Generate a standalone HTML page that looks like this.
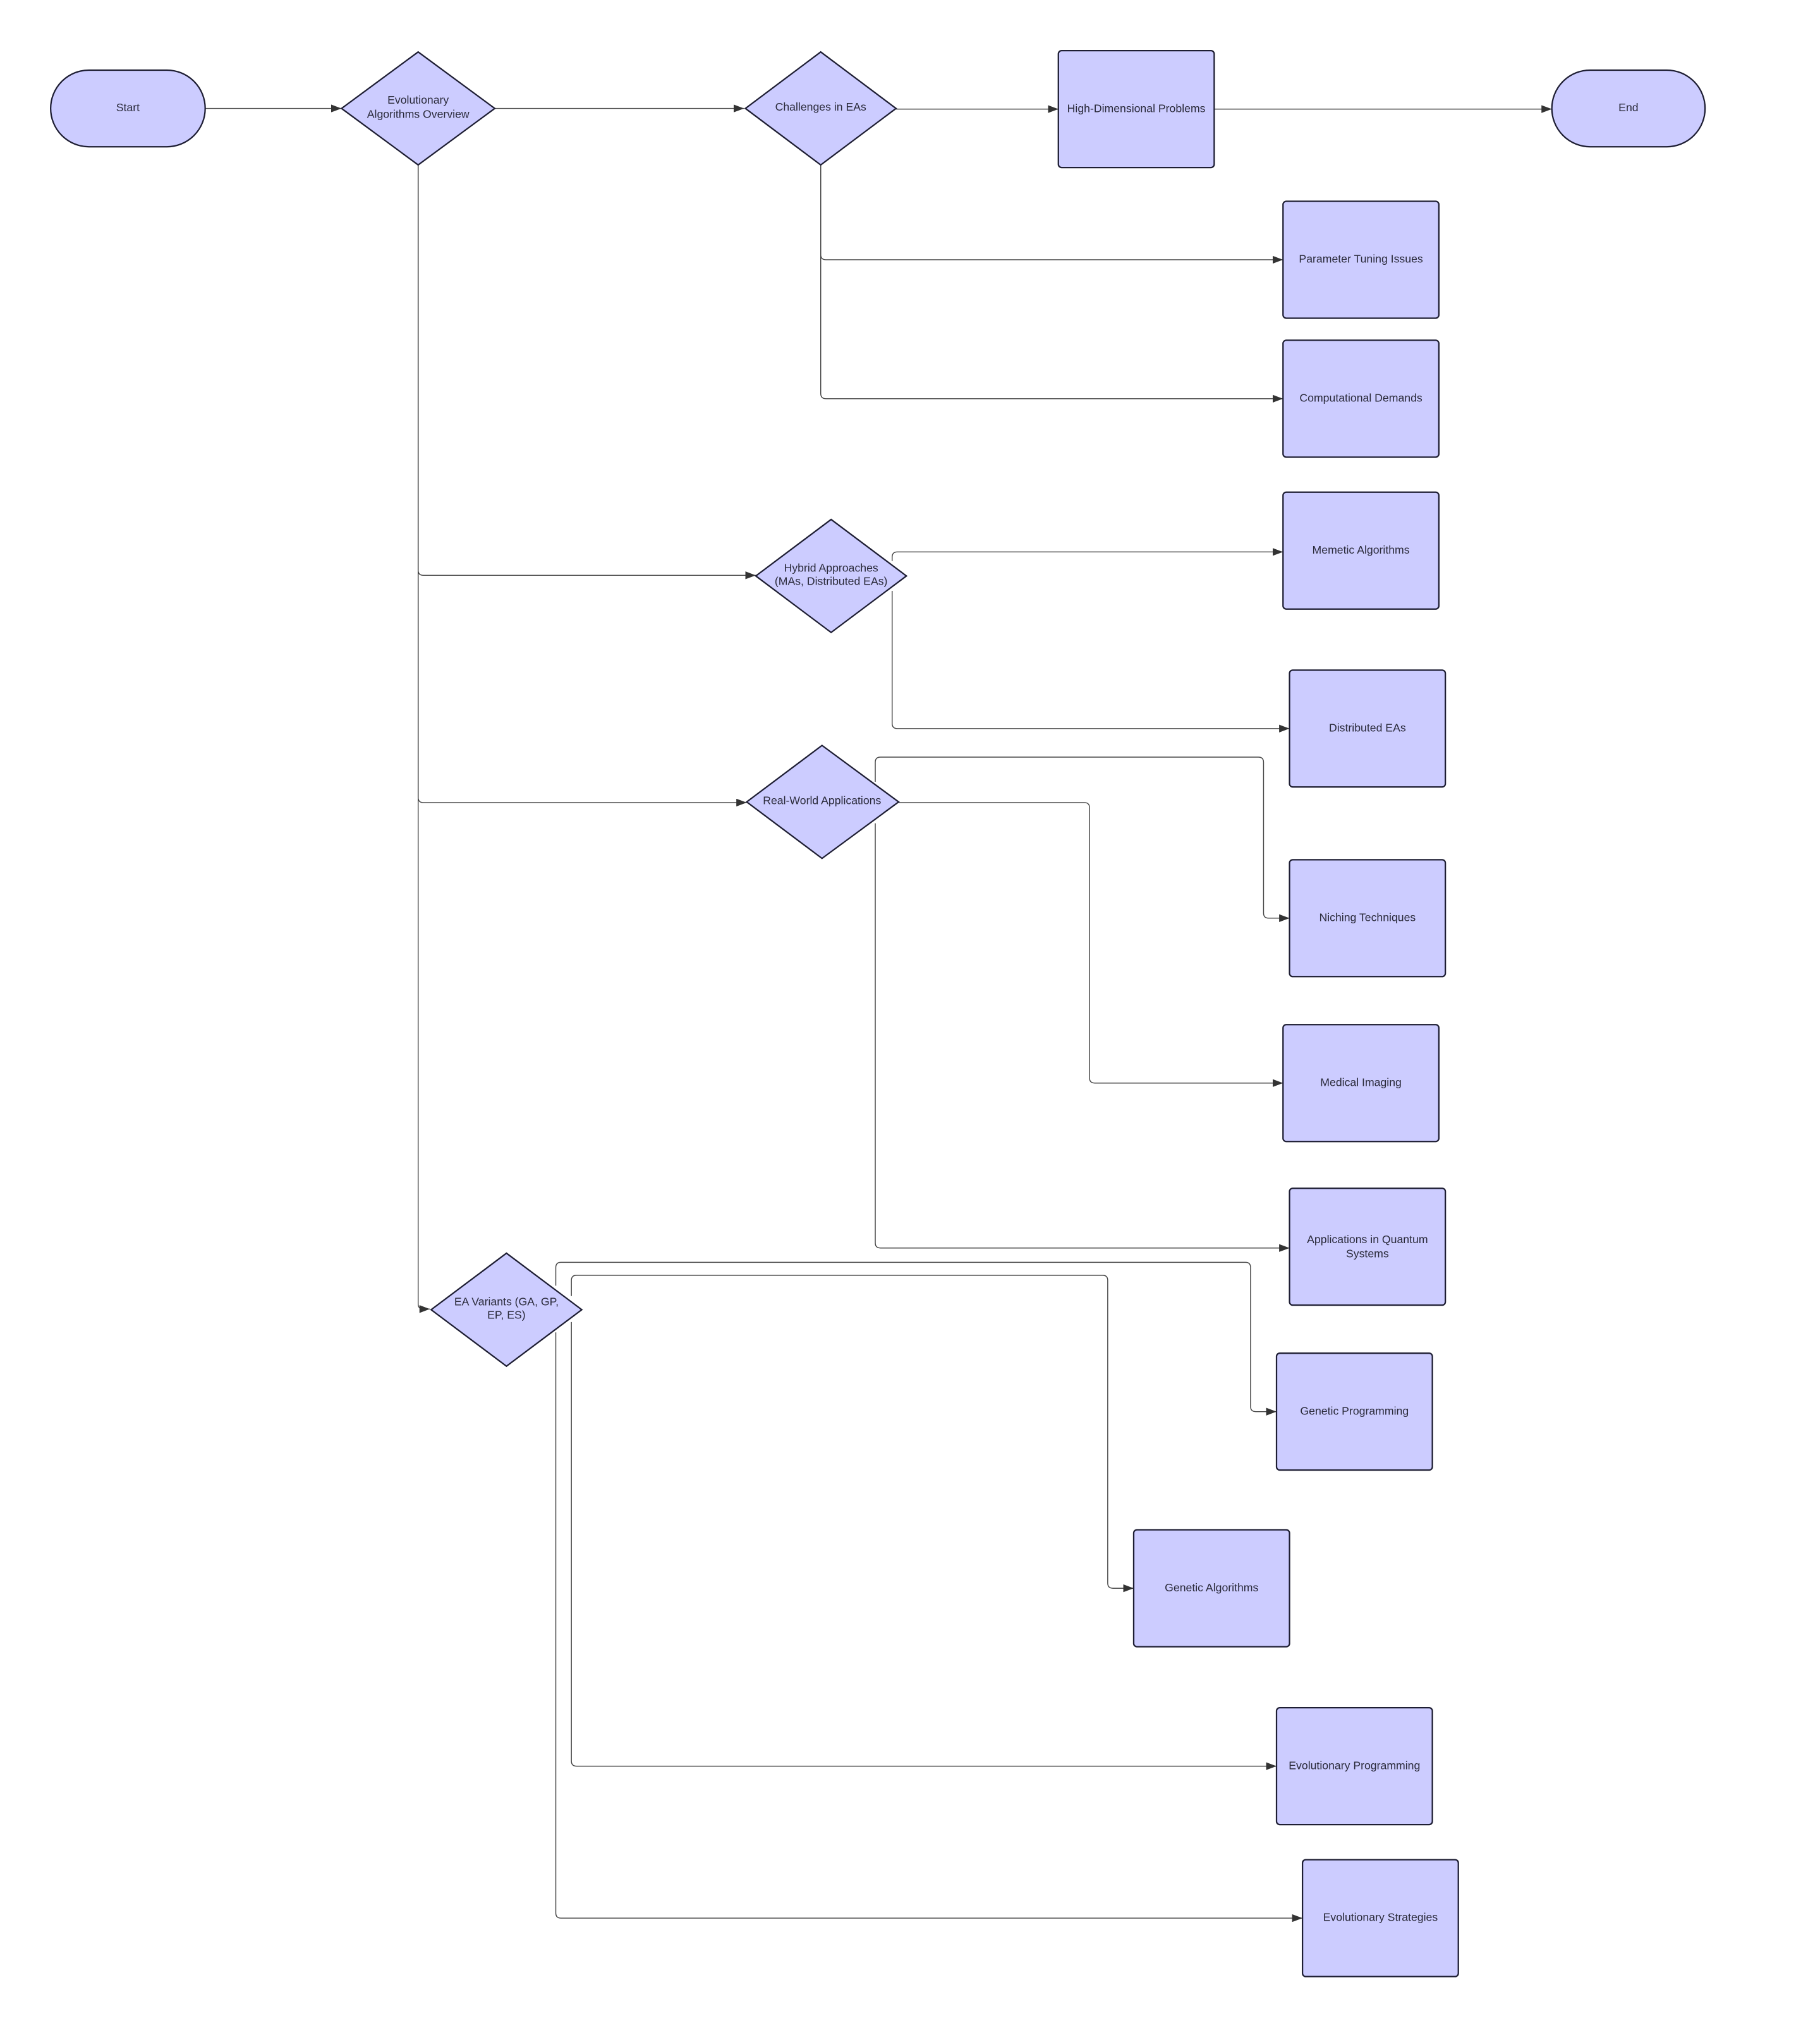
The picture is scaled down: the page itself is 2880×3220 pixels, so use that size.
<!DOCTYPE html>
<html><head><meta charset="utf-8"><style>
html,body{margin:0;padding:0;background:#fff;}
svg{display:block;}
text{font-family:"Liberation Sans",Arial,sans-serif;font-size:8.6px;fill:#2a2a3a;text-anchor:middle;dominant-baseline:middle;}
.s{fill:#ccccff;stroke:#1e1e33;stroke-width:1.1;}
.c{fill:none;stroke:#444;stroke-width:0.7;stroke-linejoin:round;}
</style></head><body>
<svg width="2880" height="3220" viewBox="0 0 1401.5 1567" preserveAspectRatio="none" xmlns="http://www.w3.org/2000/svg">
<defs><marker id="a" markerWidth="8" markerHeight="6" refX="8" refY="3" orient="auto" markerUnits="userSpaceOnUse"><path d="M0,0 L8,3 L0,6 Z" fill="#333"/></marker></defs>
<rect width="1410" height="1580" fill="#fff"/>
<g class="c">
<path d="M158,83.5 H263" marker-end="url(#a)"/>
<path d="M381,83.5 H573" marker-end="url(#a)"/>
<path d="M690,84 H815" marker-end="url(#a)"/>
<path d="M935,84 H1195" marker-end="url(#a)"/>
<path d="M632,127 V196 Q632,200 636,200 H988" marker-end="url(#a)"/>
<path d="M632,127 V303 Q632,307 636,307 H988" marker-end="url(#a)"/>
<path d="M322,127 V439 Q322,443 326,443 H582" marker-end="url(#a)"/>
<path d="M322,127 V614 Q322,618 326,618 H575" marker-end="url(#a)"/>
<path d="M322,127 V1004 Q322,1008 326,1008 H331" marker-end="url(#a)"/>
<path d="M687,432 V429 Q687,425 691,425 H988" marker-end="url(#a)"/>
<path d="M687,455 V557 Q687,561 691,561 H993" marker-end="url(#a)"/>
<path d="M692,618 H835 Q839,618 839,622 V830 Q839,834 843,834 H988" marker-end="url(#a)"/>
<path d="M674,602 V587 Q674,583 678,583 H969 Q973,583 973,587 V703 Q973,707 977,707 H993" marker-end="url(#a)"/>
<path d="M674,634 V957 Q674,961 678,961 H993" marker-end="url(#a)"/>
<path d="M428,990 V976 Q428,972 432,972 H959 Q963,972 963,976 V1083 Q963,1087 967,1087 H983" marker-end="url(#a)"/>
<path d="M428,1026 V1473 Q428,1477 432,1477 H1003" marker-end="url(#a)"/>
<path d="M440,998 V986 Q440,982 444,982 H849 Q853,982 853,986 V1219 Q853,1223 857,1223 H873" marker-end="url(#a)"/>
<path d="M440,1018 V1356 Q440,1360 444,1360 H983" marker-end="url(#a)"/>
</g>
<rect class="s" x="39" y="54" width="119" height="59" rx="29.5"/>
<text x="98.5" y="83.5">Start</text>
<rect class="s" x="1195" y="54" width="118" height="59" rx="29.5"/>
<text x="1254" y="83.5">End</text>
<path class="s" d="M322,40 L381,83.5 L322,127 L263,83.5 Z"/>
<text x="322" y="77.5">Evolutionary</text><text x="322" y="88.5">Algorithms Overview</text>
<path class="s" d="M632,40 L690,83.5 L632,127 L574,83.5 Z"/>
<text x="632" y="83">Challenges in EAs</text>
<path class="s" d="M640,400 L698,443.5 L640,487 L582,443.5 Z"/>
<text x="640" y="438">Hybrid Approaches</text><text x="640" y="448">(MAs, Distributed EAs)</text>
<path class="s" d="M633,574 L692,617.5 L633,661 L575,617.5 Z"/>
<text x="633" y="617">Real-World Applications</text>
<path class="s" d="M390,965 L448,1008.5 L390,1052 L332,1008.5 Z"/>
<text x="390" y="1003">EA Variants (GA, GP,</text><text x="390" y="1013">EP, ES)</text>
<g>
<rect class="s" x="815" y="39" width="120" height="90" rx="2.5"/><text x="875" y="84">High-Dimensional Problems</text>
<rect class="s" x="988" y="155" width="120" height="90" rx="2.5"/><text x="1048" y="200">Parameter Tuning Issues</text>
<rect class="s" x="988" y="262" width="120" height="90" rx="2.5"/><text x="1048" y="307">Computational Demands</text>
<rect class="s" x="988" y="379" width="120" height="90" rx="2.5"/><text x="1048" y="424">Memetic Algorithms</text>
<rect class="s" x="993" y="516" width="120" height="90" rx="2.5"/><text x="1053" y="561">Distributed EAs</text>
<rect class="s" x="993" y="662" width="120" height="90" rx="2.5"/><text x="1053" y="707">Niching Techniques</text>
<rect class="s" x="988" y="789" width="120" height="90" rx="2.5"/><text x="1048" y="834">Medical Imaging</text>
<rect class="s" x="993" y="915" width="120" height="90" rx="2.5"/><text x="1053" y="955">Applications in Quantum</text><text x="1053" y="966">Systems</text>
<rect class="s" x="983" y="1042" width="120" height="90" rx="2.5"/><text x="1043" y="1087">Genetic Programming</text>
<rect class="s" x="873" y="1178" width="120" height="90" rx="2.5"/><text x="933" y="1223">Genetic Algorithms</text>
<rect class="s" x="983" y="1315" width="120" height="90" rx="2.5"/><text x="1043" y="1360">Evolutionary Programming</text>
<rect class="s" x="1003" y="1432" width="120" height="90" rx="2.5"/><text x="1063" y="1477">Evolutionary Strategies</text>
</g>
</svg>
</body></html>
